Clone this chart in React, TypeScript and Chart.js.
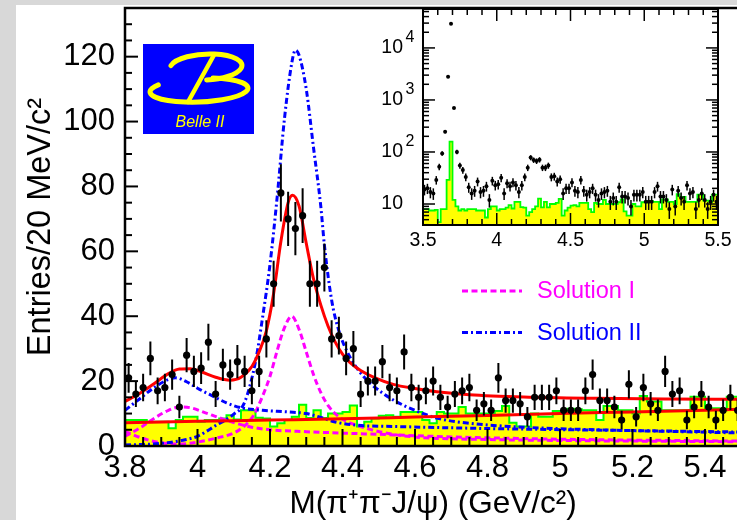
import React, { useEffect, useRef } from 'react';
import { Chart, registerables } from 'chart.js';

Chart.register(...registerables);

const FONT = "'Liberation Sans', Arial, Helvetica, sans-serif";

// ---------- binning ----------
const MASS_MIN = 3.8;
const MASS_MAX = 5.5;
const BIN_WIDTH = 0.02;
const Y_MAX = 135;

// data: entries per 20 MeV bin, bins from 3.80 to 5.50 GeV
const COUNTS = [
  21, 16, 18, 27, 17, 18, 22, 12, 28, 23,
  24, 32, 16, 25, 22, 26, 23, 17, 23, 33,
  50, 78, 70, 67, 71, 50, 50, 55, 33, 34,
  27, 30, 16, 20, 20, 26, 18, 17, 29, 18,
  15, 17, 20, 15, 12, 16, 17, 18, 11, 13,
  11, 21, 14, 14, 13, 9, 15, 15, 15, 17,
  11, 11, 11, 17, 22, 14, 14, 12, 8, 19,
  9, 18, 13, 11, 23, 16, 17, 8, 12, 16,
  12, 8, 11, 15, 11,
];

// J/psi sideband background (yellow histogram)
const BKG = [
  8, 8, 8, 7.5, 7.5, 7.5, 5.5, 8, 9, 9,
  7.5, 8, 8, 8.5, 9.5, 8.2, 11, 11, 8.7, 8.5,
  6, 7, 8, 9, 12.7, 8.6, 11, 8.6, 10, 10,
  10.5, 12.5, 6, 7.5, 8.5, 9.3, 9.5, 9, 10.5, 10.5,
  10.5, 8, 7, 10.5, 10, 10, 12, 10, 10, 10,
  10, 10.8, 12.3, 7.2, 6, 6, 10, 9, 9, 10.8,
  10.8, 11.5, 11.3, 11, 11, 8, 12.3, 12.3, 11, 11,
  10, 15.4, 13.7, 13.7, 11, 11, 11, 11, 15.2, 15.2,
  11.6, 11.6, 11, 15.2, 15.2,
];

// inset: extra bins from 3.50 to 3.80 GeV
const INSET_MIN = 3.5;
const INSET_MAX = 5.5;
const INSET_Y_MIN = 3.95;
const INSET_Y_MAX = 56000;
const INSET_LOW_COUNTS = [19, 20, 17, 16, 29, 52, 94, 245, 2800, 29000, 700, 100, 55, 45, 33];
const INSET_LOW_BKG = [8, 8, 7.5, 7.5, 7.7, 4.5, 8, 8, 29, 158, 12, 9, 7.5, 8, 7.5];

// ticks
const X_TICKS = [3.8, 4.0, 4.2, 4.4, 4.6, 4.8, 5.0, 5.2, 5.4];
const X_TICK_LABELS = ['3.8', '4', '4.2', '4.4', '4.6', '4.8', '5', '5.2', '5.4'];
const X_MINOR_STEP = 0.05;
const Y_TICKS = [0, 20, 40, 60, 80, 100, 120];
const Y_TICK_LABELS = ['0', '20', '40', '60', '80', '100', '120'];
const Y_MINOR_STEP = 5;
const INSET_X_TICKS = [3.5, 4, 4.5, 5, 5.5];
const INSET_X_TICK_LABELS = ['3.5', '4', '4.5', '5', '5.5'];
const INSET_X_MINOR_STEP = 0.1;
const INSET_Y_TICKS = [10, 100, 1000, 10000];
const INSET_Y_BASE = ['10', '10', '10', '10'];
const INSET_Y_EXP = ['', '2', '3', '4'];

// fit curves [mass, entries]
const FIT_TOTAL = [
  [3.80, 13.7], [3.84, 16.2], [3.88, 19.2], [3.92, 22.3], [3.95, 23.7], [3.98, 23.8], [4.01, 22.9],
  [4.05, 21.2], [4.09, 20.3], [4.12, 21.2], [4.15, 24.5], [4.17, 29], [4.19, 35.5], [4.21, 47],
  [4.23, 63], [4.25, 75], [4.262, 77.3], [4.28, 74], [4.30, 62.5], [4.32, 51.5], [4.34, 43.5],
  [4.36, 37], [4.38, 32], [4.40, 28.3], [4.42, 25.8], [4.45, 23.3], [4.49, 21], [4.54, 19],
  [4.60, 17.7], [4.66, 16.7], [4.75, 15.8], [4.90, 15.1], [5.10, 14.7], [5.30, 14.5], [5.50, 14.4],
];
const FIT_BKG = [
  [3.8, 7.2], [4.0, 7.6], [4.2, 8.0], [4.4, 8.4], [4.6, 8.9], [4.8, 9.4], [5.0, 10.0], [5.2, 10.5], [5.5, 11.3],
];
const SOL2_PEAK = [
  [3.80, 0.3], [3.90, 0.8], [3.96, 1.8], [4.00, 3.0], [4.05, 6.3], [4.10, 9.8], [4.13, 13.5], [4.16, 26],
  [4.18, 40], [4.20, 56], [4.22, 77], [4.24, 101], [4.26, 118], [4.27, 122], [4.28, 120.5], [4.30, 110],
  [4.32, 92], [4.34, 74], [4.35, 62], [4.37, 45], [4.39, 35.5], [4.42, 27.5], [4.45, 22.5], [4.48, 19],
  [4.54, 14.2], [4.60, 11], [4.66, 8.6], [4.75, 7], [4.90, 5.8], [5.10, 5], [5.30, 4.5], [5.50, 4],
];
const SOL2_LOW = [
  [3.80, 11], [3.84, 14.5], [3.88, 18], [3.92, 20.5], [3.94, 21], [3.97, 19.8], [4.00, 17.8], [4.04, 15.5],
  [4.08, 13.3], [4.12, 11.8], [4.18, 11], [4.25, 10.5], [4.30, 10], [4.34, 8.8], [4.38, 7.4], [4.44, 6.4],
  [4.55, 6], [4.70, 5.6], [4.90, 5.2], [5.10, 4.9], [5.30, 4.6], [5.50, 4.3],
];
const SOL1_PEAK = [
  [3.80, 4.5], [3.85, 2.3], [3.90, 1.0], [3.95, 0.6], [4.00, 1.2], [4.05, 2.4], [4.10, 4.0], [4.13, 6.2],
  [4.155, 9.5], [4.18, 15.5], [4.20, 21.5], [4.22, 29.5], [4.24, 36.5], [4.26, 40], [4.28, 36], [4.30, 29],
  [4.32, 22], [4.34, 16.5], [4.36, 12.5], [4.39, 9], [4.45, 6], [4.54, 3.6], [4.62, 2.6], [4.80, 2],
  [5.00, 1.7], [5.50, 1.3],
];
const SOL1_LOW = [
  [3.80, 3], [3.84, 5.5], [3.88, 8.5], [3.92, 11], [3.95, 12], [3.98, 11.8], [4.02, 10.3], [4.06, 8.7],
  [4.10, 7.2], [4.15, 5.8], [4.20, 5.0], [4.30, 4.4], [4.42, 3.9], [4.50, 3.6], [4.70, 2.8], [5.00, 2.1],
  [5.50, 1.5],
];

const LEGEND_LABELS = ['Solution I', 'Solution II'];

// ---------- styles ----------
const MAGENTA = '#ff00ff';
const BLUE = '#0000ff';
const RED = '#ff0000';
const DASH_SOL1 = [6, 3.5];
const DASH_SOL2 = [6, 3, 2, 3];

const toXY = (arr: number[][]) => arr.map(([x, y]) => ({ x, y }));
const pointsFrom = (min: number, counts: number[]) =>
  counts.map((v, k) => ({ x: min + BIN_WIDTH * (k + 0.5), y: v }));
const histFrom = (min: number, vals: number[]) => [
  ...vals.map((v, k) => ({ x: min + BIN_WIDTH * k, y: v })),
  { x: min + BIN_WIDTH * vals.length, y: vals[vals.length - 1] },
];

const line = (ctx: CanvasRenderingContext2D, x1: number, y1: number, x2: number, y2: number) => {
  ctx.beginPath();
  ctx.moveTo(x1, y1);
  ctx.lineTo(x2, y2);
  ctx.stroke();
};

const errorBarPlugin = {
  id: 'poissonErrors',
  afterDatasetsDraw(chart: any) {
    const { ctx, chartArea: a, scales } = chart;
    ctx.save();
    ctx.beginPath();
    ctx.rect(a.left, a.top, a.right - a.left, a.bottom - a.top);
    ctx.clip();
    chart.data.datasets.forEach((ds: any, i: number) => {
      if (!ds.errorBars) return;
      const meta = chart.getDatasetMeta(i);
      const xs = scales[meta.xAxisID];
      const ys = scales[meta.yAxisID];
      ctx.strokeStyle = '#000';
      ctx.lineWidth = ds.errorBarWidth;
      ds.data.forEach((p: any) => {
        const e = Math.sqrt(p.y);
        const px = xs.getPixelForValue(p.x);
        const lo = Math.max(p.y - e, ys.min);
        line(ctx, px, ys.getPixelForValue(lo), px, ys.getPixelForValue(p.y + e));
      });
    });
    ctx.restore();
  },
};

const mainDecor = {
  id: 'mainDecor',
  afterDraw(chart: any) {
    const { ctx, chartArea: a, scales } = chart;
    const x = scales.x;
    const y = scales.y;
    ctx.save();
    ctx.strokeStyle = '#000';
    ctx.lineWidth = 2;
    // y ticks (inward)
    for (let i = 0; i * Y_MINOR_STEP <= Y_MAX + 1e-9; i++) {
      const v = i * Y_MINOR_STEP;
      const py = y.getPixelForValue(v);
      const major = i % 4 === 0;
      line(ctx, a.left, py, a.left + (major ? 13 : 7), py);
    }
    // x ticks (inward)
    for (let i = 0; MASS_MIN + i * X_MINOR_STEP <= MASS_MAX + 1e-9; i++) {
      const px = x.getPixelForValue(MASS_MIN + i * X_MINOR_STEP);
      const major = i % 4 === 0;
      line(ctx, px, a.bottom, px, a.bottom - (major ? 17 : 9));
    }
    // frame
    ctx.lineWidth = 2.5;
    ctx.strokeRect(a.left, a.top, a.right - a.left, a.bottom - a.top);

    // Belle II logo
    ctx.fillStyle = '#0000ff';
    ctx.fillRect(143, 44, 111, 90);
    ctx.strokeStyle = '#ffff00';
    ctx.lineCap = 'round';
    ctx.lineWidth = 5;
    ctx.beginPath();
    ctx.ellipse(206, 67, 36, 13, -0.05, Math.PI + 0.25, Math.PI * 2.5);
    ctx.stroke();
    ctx.beginPath();
    ctx.ellipse(199, 90, 49, 12, -0.04, -Math.PI / 2 + 0.3, Math.PI + 0.6);
    ctx.stroke();
    ctx.lineWidth = 4.5;
    line(ctx, 214, 55, 188, 102);
    ctx.fillStyle = '#ffff00';
    ctx.font = `italic 16px ${FONT}`;
    ctx.textAlign = 'center';
    ctx.textBaseline = 'alphabetic';
    ctx.fillText('Belle II', 200, 127);

    // legend
    const legendColors = [MAGENTA, BLUE];
    const legendDash = [DASH_SOL1, DASH_SOL2];
    const legendY = [291, 332.5];
    ctx.lineCap = 'butt';
    LEGEND_LABELS.forEach((lab, i) => {
      ctx.strokeStyle = legendColors[i];
      ctx.lineWidth = 3;
      ctx.setLineDash(legendDash[i]);
      line(ctx, 462, legendY[i], 522, legendY[i]);
      ctx.setLineDash([]);
      ctx.fillStyle = legendColors[i];
      ctx.font = `23.5px ${FONT}`;
      ctx.textAlign = 'left';
      ctx.textBaseline = 'middle';
      ctx.fillText(lab, 537, legendY[i] + 1);
    });
    ctx.restore();
  },
};

const insetDecor = {
  id: 'insetDecor',
  beforeDatasetsDraw(chart: any) {
    const { ctx, chartArea: a } = chart;
    ctx.save();
    ctx.fillStyle = '#fff';
    ctx.fillRect(a.left, a.top, a.right - a.left, a.bottom - a.top);
    ctx.restore();
  },
  afterDraw(chart: any) {
    const { ctx, chartArea: a, scales } = chart;
    const x = scales.x;
    const y = scales.y;
    ctx.save();
    ctx.strokeStyle = '#000';
    ctx.lineWidth = 1.5;
    // x ticks top and bottom
    for (let i = 0; INSET_MIN + i * INSET_X_MINOR_STEP <= INSET_MAX + 1e-9; i++) {
      const px = x.getPixelForValue(INSET_MIN + i * INSET_X_MINOR_STEP);
      const len = i % 5 === 0 ? 12 : 6;
      line(ctx, px, a.bottom, px, a.bottom - len);
      line(ctx, px, a.top, px, a.top + len);
    }
    // log y ticks left and right
    for (let d = 0; d <= 4; d++) {
      for (let m = 1; m <= 9; m++) {
        const v = m * Math.pow(10, d);
        if (v < INSET_Y_MIN || v > INSET_Y_MAX) continue;
        const py = y.getPixelForValue(v);
        const len = m === 1 ? 12 : 6;
        line(ctx, a.left, py, a.left + len, py);
        line(ctx, a.right, py, a.right - len, py);
      }
    }
    ctx.lineWidth = 2;
    ctx.strokeRect(a.left, a.top, a.right - a.left, a.bottom - a.top);
    // y labels 10^n
    ctx.fillStyle = '#000';
    INSET_Y_TICKS.forEach((v, i) => {
      const py = y.getPixelForValue(v);
      ctx.font = `19.5px ${FONT}`;
      ctx.textAlign = 'right';
      ctx.textBaseline = 'middle';
      ctx.fillText(INSET_Y_BASE[i], a.left - 20, py);
      if (INSET_Y_EXP[i]) {
        ctx.font = `16px ${FONT}`;
        ctx.textAlign = 'left';
        ctx.textBaseline = 'alphabetic';
        ctx.fillText(INSET_Y_EXP[i], a.left - 17.5, py - 6.3);
      }
    });
    ctx.restore();
  },
};

const curve = (label: string, data: number[][], color: string, dash: number[], order: number) => ({
  label,
  data: toXY(data),
  borderColor: color,
  borderWidth: 3,
  borderDash: dash,
  pointRadius: 0,
  fill: false,
  cubicInterpolationMode: 'monotone',
  order,
});

export default function App() {
  const mainRef = useRef<HTMLCanvasElement>(null);
  const insetRef = useRef<HTMLCanvasElement>(null);

  useEffect(() => {
    const main = new Chart(mainRef.current as HTMLCanvasElement, {
      type: 'line',
      data: {
        datasets: [
          {
            label: 'Data',
            data: pointsFrom(MASS_MIN, COUNTS),
            showLine: false,
            pointRadius: 3.6,
            pointBorderWidth: 0,
            pointBackgroundColor: '#000',
            borderColor: '#000',
            errorBars: true,
            errorBarWidth: 2,
            order: 0,
          } as any,
          curve('Fit', FIT_TOTAL, RED, [], 1),
          curve('Background', FIT_BKG, RED, [], 2),
          curve('Solution II', SOL2_PEAK, BLUE, DASH_SOL2, 3),
          curve('Solution II low', SOL2_LOW, BLUE, DASH_SOL2, 4),
          curve('Solution I', SOL1_PEAK, MAGENTA, DASH_SOL1, 5),
          curve('Solution I low', SOL1_LOW, MAGENTA, DASH_SOL1, 6),
          {
            label: 'Sideband',
            data: histFrom(MASS_MIN, BKG),
            stepped: true,
            fill: 'origin',
            backgroundColor: '#ffff00',
            borderColor: '#00ff00',
            borderWidth: 2,
            pointRadius: 0,
            order: 10,
          } as any,
        ],
      },
      options: {
        responsive: false,
        animation: false,
        events: [],
        layout: { padding: { left: 0, top: 8, right: 18.75, bottom: 0 } },
        plugins: { legend: { display: false }, tooltip: { enabled: false } },
        scales: {
          x: {
            type: 'linear',
            min: MASS_MIN,
            max: MASS_MAX,
            grid: { display: false, drawTicks: false },
            border: { display: false },
            afterBuildTicks: (s: any) => { s.ticks = X_TICKS.map((value) => ({ value })); },
            afterFit: (s: any) => { s.height = 74; s.paddingLeft = 0; s.paddingRight = 0; },
            ticks: {
              autoSkip: false,
              maxRotation: 0,
              minRotation: 0,
              padding: 4,
              color: '#000',
              font: { family: FONT, size: 31, lineHeight: 1.2 },
              callback: (_v: any, i: number) => X_TICK_LABELS[i],
            },
            title: {
              display: true,
              text: 'M(π⁺π⁻J/ψ) (GeV/c²)',
              color: '#000',
              font: { family: FONT, size: 31.5, lineHeight: 1 },
              padding: { top: 0, bottom: 0 },
            },
          },
          y: {
            type: 'linear',
            min: 0,
            max: Y_MAX,
            grid: { display: false, drawTicks: false },
            border: { display: false },
            afterBuildTicks: (s: any) => { s.ticks = Y_TICKS.map((value) => ({ value })); },
            afterFit: (s: any) => { s.width = 125; s.paddingTop = 0; s.paddingBottom = 0; },
            ticks: {
              autoSkip: false,
              padding: 10,
              color: '#000',
              font: { family: FONT, size: 31, lineHeight: 1 },
              callback: (_v: any, i: number) => Y_TICK_LABELS[i],
            },
            title: {
              display: true,
              text: 'Entries/20 MeV/c²',
              color: '#000',
              font: { family: FONT, size: 32.5, lineHeight: 1 },
              padding: { top: 24.5, bottom: 0 },
            },
          },
        },
      } as any,
      plugins: [errorBarPlugin, mainDecor],
    });

    const inset = new Chart(insetRef.current as HTMLCanvasElement, {
      type: 'line',
      data: {
        datasets: [
          {
            label: 'Data',
            data: pointsFrom(INSET_MIN, [...INSET_LOW_COUNTS, ...COUNTS]),
            showLine: false,
            pointRadius: 2,
            pointBorderWidth: 0,
            pointBackgroundColor: '#000',
            borderColor: '#000',
            errorBars: true,
            errorBarWidth: 1.5,
            order: 0,
          } as any,
          {
            label: 'Sideband',
            data: histFrom(INSET_MIN, [...INSET_LOW_BKG, ...BKG]),
            stepped: true,
            fill: 'start',
            backgroundColor: '#ffff00',
            borderColor: '#00ff00',
            borderWidth: 1.8,
            pointRadius: 0,
            order: 10,
          } as any,
        ],
      },
      options: {
        responsive: false,
        animation: false,
        events: [],
        layout: { padding: { left: 53, top: 9, right: 19, bottom: 0 } },
        plugins: { legend: { display: false }, tooltip: { enabled: false } },
        scales: {
          x: {
            type: 'linear',
            min: INSET_MIN,
            max: INSET_MAX,
            grid: { display: false, drawTicks: false },
            border: { display: false },
            afterBuildTicks: (s: any) => { s.ticks = INSET_X_TICKS.map((value) => ({ value })); },
            afterFit: (s: any) => { s.height = 30; s.paddingLeft = 0; s.paddingRight = 0; },
            ticks: {
              autoSkip: false,
              maxRotation: 0,
              minRotation: 0,
              padding: 6,
              color: '#000',
              font: { family: FONT, size: 19.5, lineHeight: 1 },
              callback: (_v: any, i: number) => INSET_X_TICK_LABELS[i],
            },
          },
          y: {
            type: 'logarithmic',
            min: INSET_Y_MIN,
            max: INSET_Y_MAX,
            display: false,
          },
        },
      } as any,
      plugins: [errorBarPlugin, insetDecor],
    });

    return () => {
      main.destroy();
      inset.destroy();
    };
  }, []);

  return (
    <div style={{ position: 'fixed', left: 0, top: 0, width: 737, height: 520, overflow: 'hidden', background: '#d8d8d8' }}>
      <div style={{ position: 'absolute', left: 16, top: 5, right: 0, bottom: 0, background: '#ffffff' }} />
      <canvas ref={mainRef} width={760} height={520} style={{ position: 'absolute', left: 0, top: 0, width: 760, height: 520 }} />
      <canvas ref={insetRef} width={367} height={255} style={{ position: 'absolute', left: 370, top: 0, width: 367, height: 255 }} />
    </div>
  );
}
